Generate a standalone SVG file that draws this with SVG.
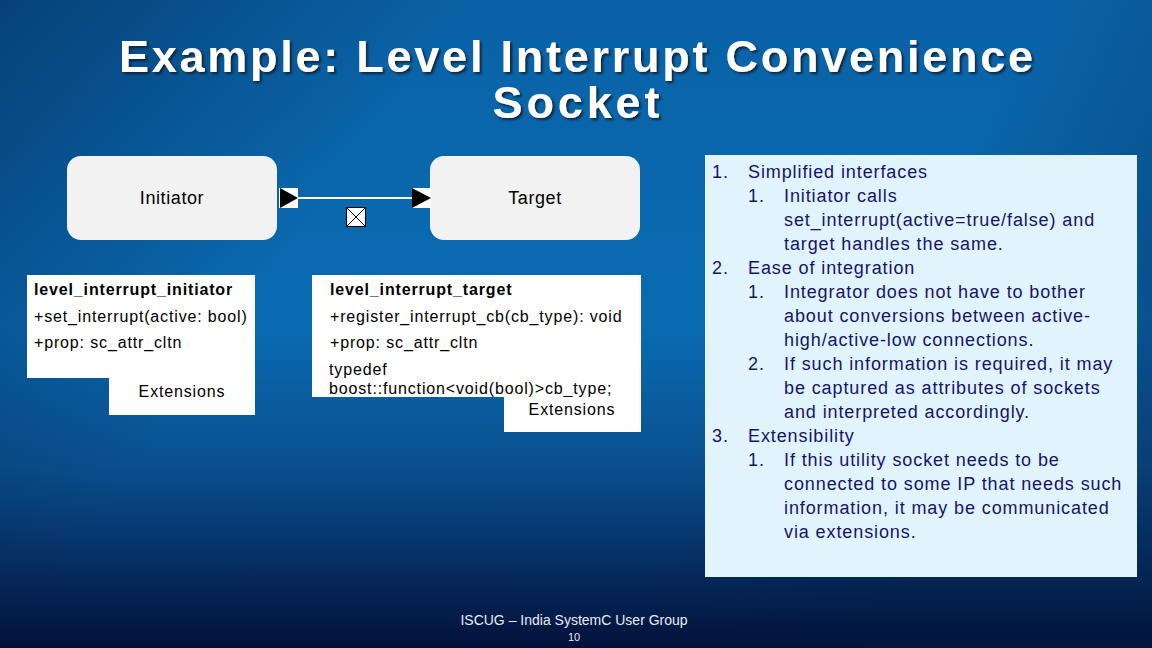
<svg xmlns="http://www.w3.org/2000/svg" width="1152" height="648" viewBox="0 0 1152 648">
<defs>
<linearGradient id="bgv" x1="0" y1="0" x2="0" y2="1">
<stop offset="0" stop-color="#0a62a6"/>
<stop offset="0.5" stop-color="#0a6bb2"/>
<stop offset="0.72" stop-color="#0a4f8e"/>
<stop offset="1" stop-color="#02113a"/>
</linearGradient>
<linearGradient id="bgh" x1="0" y1="0" x2="1" y2="0.4">
<stop offset="0" stop-color="#021a40" stop-opacity="0.45"/>
<stop offset="0.35" stop-color="#021a40" stop-opacity="0"/>
<stop offset="0.8" stop-color="#021a40" stop-opacity="0"/>
<stop offset="1" stop-color="#021a40" stop-opacity="0.3"/>
</linearGradient>
<filter id="sh" x="-5%" y="-20%" width="110%" height="140%">
<feDropShadow dx="2" dy="2" stdDeviation="0.8" flood-color="#0a1a33" flood-opacity="0.9"/>
</filter>
</defs>
<style>
.title{font-family:"Liberation Sans",Arial,sans-serif;font-weight:bold;font-size:45px;fill:#ffffff;text-anchor:middle}
.node{fill:#f2f2f2}
.lbl{font-family:"Liberation Sans",Arial,sans-serif;font-size:18px;fill:#000;text-anchor:middle;letter-spacing:0.6px}
.cls{fill:#ffffff}
.ct{font-family:"Liberation Sans",Arial,sans-serif;font-size:16px;fill:#000;letter-spacing:0.85px}
.cb{font-weight:bold}
.ext{text-anchor:middle}
.pt{font-family:"Liberation Sans",Arial,sans-serif;font-size:18px;fill:#14146e;letter-spacing:0.9px}
.ft{font-family:"Liberation Sans",Arial,sans-serif;fill:#e6ecf5;text-anchor:middle}
</style>
<rect width="1152" height="648" fill="url(#bgv)"/>
<rect width="1152" height="648" fill="url(#bgh)"/>

<g id="title" filter="url(#sh)">
<text class="title" x="576" y="72" textLength="914" lengthAdjust="spacing">Example: Level Interrupt Convenience</text>
<text class="title" x="576" y="118" textLength="167" lengthAdjust="spacing">Socket</text>
</g>

<g id="initiator">
<rect class="node" x="67" y="156" width="210" height="84" rx="14"/>
<text class="lbl" x="172" y="204">Initiator</text>
</g>
<g id="target">
<rect class="node" x="430" y="156" width="210" height="84" rx="14"/>
<text class="lbl" x="535" y="204">Target</text>
</g>

<g id="connectors">
<line x1="297" y1="198" x2="413" y2="198" stroke="#ffffff" stroke-width="2"/>
<rect x="279" y="188" width="19" height="20" fill="#ffffff"/>
<polygon points="280,188 298,198 280,208" fill="#000"/>
<rect x="412" y="188" width="19" height="20" fill="#ffffff"/>
<polygon points="412,188 431,198 412,208" fill="#000"/>
<rect x="346.5" y="207.5" width="19" height="19" fill="#ffffff" stroke="#000" stroke-width="1"/>
<path d="M346.5 207.5 L365.5 226.5 M365.5 207.5 L346.5 226.5" stroke="#000" stroke-width="1"/>
</g>

<g id="initiator-socket">
<rect class="cls" x="27" y="275" width="228" height="103"/>
<rect class="cls" x="109" y="377" width="146" height="38"/>
<text class="ct cb" x="34" y="295">level_interrupt_initiator</text>
<text class="ct" x="34" y="322">+set_interrupt(active: bool)</text>
<text class="ct" x="34" y="348">+prop: sc_attr_cltn</text>
<text class="ct ext" x="182" y="397">Extensions</text>
</g>

<g id="target-socket">
<clipPath id="tc"><rect x="312" y="275" width="329" height="122"/></clipPath>
<rect class="cls" x="312" y="275" width="329" height="122"/>
<rect class="cls" x="504" y="396" width="137" height="36"/>
<g clip-path="url(#tc)">
<text class="ct cb" x="330" y="295">level_interrupt_target</text>
<text class="ct" x="330" y="322">+register_interrupt_cb(cb_type): void</text>
<text class="ct" x="330" y="348">+prop: sc_attr_cltn</text>
<text class="ct" x="329" y="375">typedef</text>
<text class="ct" x="329" y="394">boost::function&lt;void(bool)&gt;cb_type;</text>
</g>
<text class="ct ext" x="572" y="415">Extensions</text>
</g>

<g id="notes">
<rect x="705" y="155" width="432" height="422" fill="#e1f3fc"/>
<text class="pt" x="712" y="178">1.</text><text class="pt" x="748" y="178">Simplified interfaces</text>
<text class="pt" x="748" y="202">1.</text><text class="pt" x="784" y="202">Initiator calls</text>
<text class="pt" x="784" y="226">set_interrupt(active=true/false) and</text>
<text class="pt" x="784" y="250">target handles the same.</text>
<text class="pt" x="712" y="274">2.</text><text class="pt" x="748" y="274">Ease of integration</text>
<text class="pt" x="748" y="298">1.</text><text class="pt" x="784" y="298">Integrator does not have to bother</text>
<text class="pt" x="784" y="322">about conversions between active-</text>
<text class="pt" x="784" y="346">high/active-low connections.</text>
<text class="pt" x="748" y="370">2.</text><text class="pt" x="784" y="370">If such information is required, it may</text>
<text class="pt" x="784" y="394">be captured as attributes of sockets</text>
<text class="pt" x="784" y="418">and interpreted accordingly.</text>
<text class="pt" x="712" y="442">3.</text><text class="pt" x="748" y="442">Extensibility</text>
<text class="pt" x="748" y="466">1.</text><text class="pt" x="784" y="466">If this utility socket needs to be</text>
<text class="pt" x="784" y="490">connected to some IP that needs such</text>
<text class="pt" x="784" y="514">information, it may be communicated</text>
<text class="pt" x="784" y="538">via extensions.</text>
</g>

<g id="footer">
<text class="ft" x="574" y="625" font-size="14">ISCUG – India SystemC User Group</text>
<text class="ft" x="574" y="641" font-size="11">10</text>
</g>
</svg>
